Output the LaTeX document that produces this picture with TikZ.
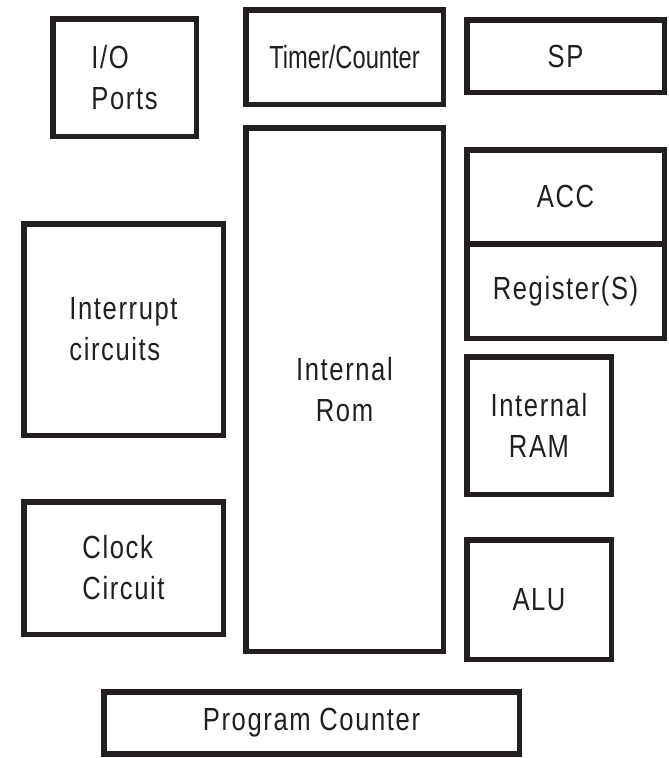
\documentclass[tikz,border=0pt]{standalone}
\usepackage{fontspec}
\setmainfont{Liberation Sans}[FakeStretch=0.8, LetterSpace=5]
\newfontfamily\narrowfont{Liberation Sans}[FakeStretch=0.74]
\definecolor{ink}{HTML}{231F20}
\begin{document}
\begin{tikzpicture}[x=1pt,y=-1pt,
  blk/.style={draw=ink, line width=5.5pt, inner sep=0pt, text=ink,
    font={\fontsize{32}{41}\selectfont}, align=center},
  lft/.style={align=left}]
\useasboundingbox[fill=white] (0,0) rectangle (669,758);
% left column
\node[blk, lft, minimum width=143.5pt, minimum height=117.5pt] (io) at (124.5,77.5) {I/O\\Ports};
\node[blk, lft, minimum width=199.5pt, minimum height=211.5pt] (intr) at (123.5,329.5) {Interrupt\\circuits};
\node[blk, lft, minimum width=199.5pt, minimum height=132.5pt] (clk) at (123.5,568) {Clock\\Circuit};
% middle column
\node[blk, minimum width=197.5pt, minimum height=94.5pt, font={\narrowfont\fontsize{32}{41}\selectfont}] (tmr) at (344.5,57) {Timer/Counter};
\node[blk, minimum width=197.5pt, minimum height=523.5pt] (rom) at (344.5,389.5) {Internal\\Rom};
% right column
\node[blk, minimum width=197.5pt, minimum height=72.5pt] (sp) at (565.5,56) {SP};
\node[blk, minimum width=197.5pt, minimum height=94.25pt] (acc) at (565.5,196.875) {ACC};
\node[blk, minimum width=197.5pt, minimum height=94.25pt] (reg) at (565.5,291.125) {Register(S)};
\node[blk, minimum width=144.5pt, minimum height=137.5pt] (ram) at (539,425.5) {Internal\\RAM};
\node[blk, minimum width=144.5pt, minimum height=119.5pt] (alu) at (539,599.5) {ALU};
% bottom
\node[blk, minimum width=415.5pt, minimum height=62.25pt] (pc) at (311.5,722.875) {Program Counter};
\end{tikzpicture}
\end{document}
